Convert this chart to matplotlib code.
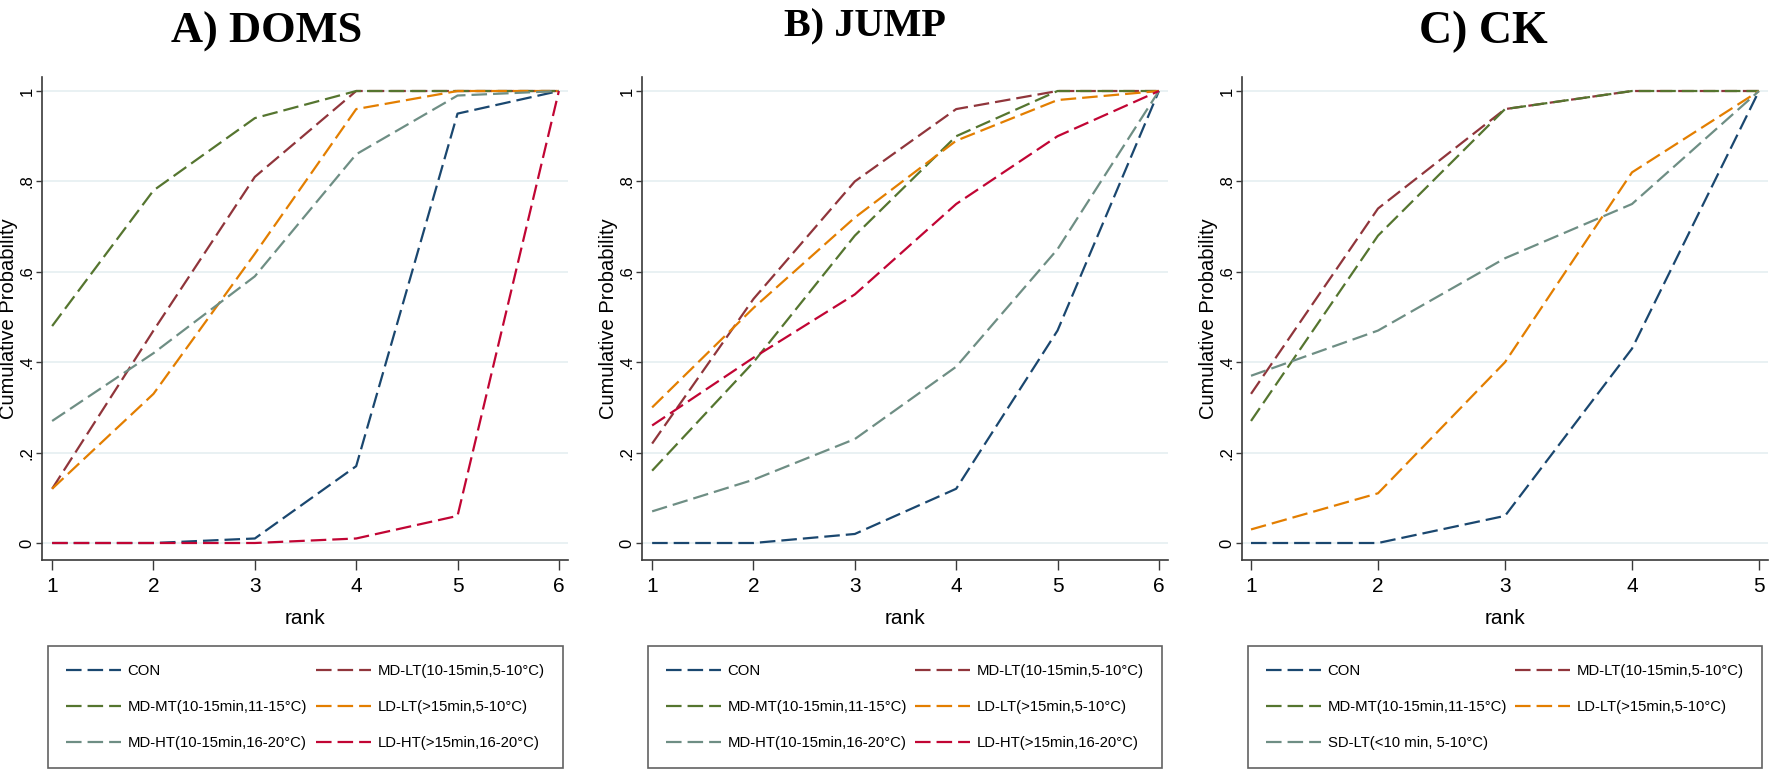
import matplotlib
matplotlib.use("Agg")
import matplotlib.pyplot as plt
from matplotlib import font_manager

# data (cumulative rank probabilities)
ranks_6 = [1, 2, 3, 4, 5, 6]
ranks_5 = [1, 2, 3, 4, 5]

doms_con = [0.0, 0.0, 0.01, 0.17, 0.95, 1.0]
doms_md_lt = [0.12, 0.47, 0.81, 1.0, 1.0, 1.0]
doms_md_mt = [0.48, 0.78, 0.94, 1.0, 1.0, 1.0]
doms_ld_lt = [0.12, 0.33, 0.64, 0.96, 1.0, 1.0]
doms_md_ht = [0.27, 0.42, 0.59, 0.86, 0.99, 1.0]
doms_ld_ht = [0.0, 0.0, 0.0, 0.01, 0.06, 1.0]

jump_con = [0.0, 0.0, 0.02, 0.12, 0.47, 1.0]
jump_md_lt = [0.22, 0.54, 0.80, 0.96, 1.0, 1.0]
jump_md_mt = [0.16, 0.40, 0.68, 0.90, 1.0, 1.0]
jump_ld_lt = [0.30, 0.52, 0.72, 0.89, 0.98, 1.0]
jump_md_ht = [0.07, 0.14, 0.23, 0.39, 0.65, 1.0]
jump_ld_ht = [0.26, 0.41, 0.55, 0.75, 0.90, 1.0]

ck_con = [0.0, 0.0, 0.06, 0.43, 1.0]
ck_md_lt = [0.33, 0.74, 0.96, 1.0, 1.0]
ck_md_mt = [0.27, 0.68, 0.96, 1.0, 1.0]
ck_ld_lt = [0.03, 0.11, 0.40, 0.82, 1.0]
ck_sd_lt = [0.37, 0.47, 0.63, 0.75, 1.0]

labels_6 = ["CON", "MD-LT(10-15min,5-10°C)", "MD-MT(10-15min,11-15°C)",
            "LD-LT(>15min,5-10°C)", "MD-HT(10-15min,16-20°C)", "LD-HT(>15min,16-20°C)"]
labels_5 = ["CON", "MD-LT(10-15min,5-10°C)", "MD-MT(10-15min,11-15°C)",
            "LD-LT(>15min,5-10°C)", "SD-LT(<10 min, 5-10°C)"]

# stata s2color: navy, maroon, forest green, dkorange, teal, cranberry
colors_6 = ["#1a476f", "#90353b", "#55752f", "#e37e00", "#6e8e84", "#c10534"]
colors_5 = ["#1a476f", "#90353b", "#55752f", "#e37e00", "#6e8e84"]

yticks = [0, 0.2, 0.4, 0.6, 0.8, 1.0]
ytick_labels = ["0", ".2", ".4", ".6", ".8", "1"]

W, H, DPI = 1772, 771, 100

installed = {f.name for f in font_manager.fontManager.ttflist}
if "Liberation Sans Narrow" in installed:
    NARROW = ["Liberation Sans Narrow", "DejaVu Sans"]
    legend_fs, xtick_fs = 13.0, 17.0
else:
    NARROW = ["Liberation Sans", "DejaVu Sans"]
    legend_fs, xtick_fs = 10.7, 15.0
SANS = ["Liberation Sans", "DejaVu Sans"]
SERIF = ["Liberation Serif", "DejaVu Serif"]

# legend rows are ~36px apart, first row ~25px under the frame
fs_px = legend_fs * DPI / 72
row_h = 0.94 * fs_px
leg_spacing = (36 - row_h) / fs_px
leg_pad = (25 - row_h / 2) / fs_px

fig = plt.figure(figsize=(W / DPI, H / DPI), dpi=DPI)
fig.patch.set_facecolor("white")

AX_TOP, AX_BOT = 77, 560


def fx(px):
    return px / W


def fy(py):
    return 1 - py / H


def panel(left, right, ranks, series, labels, colors, xlim, title, tx, tbase, tsize,
          leg_left, leg_right):
    ax = fig.add_axes([fx(left), fy(AX_BOT), fx(right - left), (AX_BOT - AX_TOP) / H])
    handles = []
    for y, lab, col in zip(series, labels, colors):
        ln, = ax.plot(ranks, y, color=col, lw=1.6, dashes=(7, 2.7), label=lab)
        handles.append(ln)

    ax.set_xlim(*xlim)
    ax.set_ylim(-0.0376, 1.031)
    ax.set_xticks(ranks)
    ax.set_xticklabels([str(r) for r in ranks], fontfamily=NARROW, fontsize=xtick_fs)
    ax.set_yticks(yticks)
    ax.set_yticklabels(ytick_labels, fontfamily=SANS, fontsize=12, rotation=90, va="center")
    ax.grid(axis="y", color="#e3edf0", lw=1.1, zorder=0)
    ax.set_axisbelow(True)
    for s in ["top", "right"]:
        ax.spines[s].set_visible(False)
    for s in ["left", "bottom"]:
        ax.spines[s].set_color("#3a3a3a")
        ax.spines[s].set_linewidth(1.2)
    ax.tick_params(axis="x", length=7, width=1.0, color="#3a3a3a", pad=5)
    ax.tick_params(axis="y", length=4, width=1.0, color="#3a3a3a", pad=1.5)

    ax.set_ylabel("Cumulative Probability", fontfamily=SANS, fontsize=14.5)
    ax.yaxis.set_label_coords(-33.5 / (right - left), 0.5)
    ax.yaxis.label.set_va("center")
    ax.set_xlabel("rank", fontfamily=NARROW, fontsize=xtick_fs)
    ax.xaxis.set_label_coords(0.5, -(618 - AX_BOT) / (AX_BOT - AX_TOP))
    ax.xaxis.label.set_va("center")

    # stata fills the legend row by row, matplotlib column by column
    order = list(range(0, len(handles), 2)) + list(range(1, len(handles), 2))
    leg = fig.legend([handles[i] for i in order], [labels[i] for i in order],
                     loc="upper left", bbox_to_anchor=(fx(leg_left), fy(646), fx(leg_right - leg_left), 0),
                     mode="expand", ncol=2, frameon=True, fancybox=False,
                     borderaxespad=0, borderpad=leg_pad, labelspacing=leg_spacing,
                     handlelength=39.6 / legend_fs, handletextpad=0.45,
                     prop={"family": NARROW, "size": legend_fs})
    leg.get_frame().set_edgecolor("#3a3a3a")
    leg.get_frame().set_linewidth(1.2)

    fig.text(fx(tx), fy(tbase), title, ha="center", va="baseline",
             fontfamily=SERIF, fontweight="bold", fontsize=tsize)
    return ax


panel(42, 568, ranks_6, [doms_con, doms_md_lt, doms_md_mt, doms_ld_lt, doms_md_ht, doms_ld_ht],
      labels_6, colors_6, (0.9, 6.09), "A) DOMS", 267, 43, 32, 48, 563)
panel(642, 1168, ranks_6, [jump_con, jump_md_lt, jump_md_mt, jump_ld_lt, jump_md_ht, jump_ld_ht],
      labels_6, colors_6, (0.9, 6.09), "B) JUMP", 865, 36, 29, 648, 1162)
panel(1242, 1768, ranks_5, [ck_con, ck_md_lt, ck_md_mt, ck_ld_lt, ck_sd_lt],
      labels_5, colors_5, (0.929, 5.071), "C) CK", 1483, 43, 33, 1248, 1762)

fig.savefig("out.png", dpi=DPI, facecolor="white")
